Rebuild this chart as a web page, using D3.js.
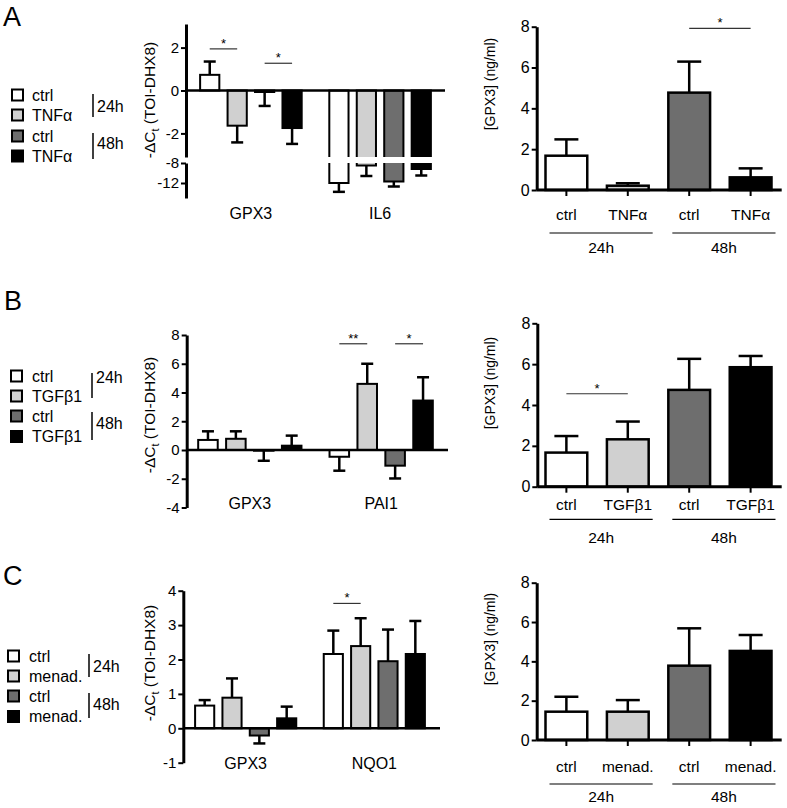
<!DOCTYPE html>
<html><head><meta charset="utf-8">
<script src="https://cdn.jsdelivr.net/npm/d3@7"></script>
<style>
body{margin:0;background:#fff}
svg text{font-family:Arial,"Liberation Sans",Helvetica,sans-serif;fill:#000}
</style>
</head><body>
<svg id="chart" width="787" height="808"></svg>
<script>
// ---------------- DATA ----------------
const seriesKeys = ["ctrl 24h", "treatment 24h", "ctrl 48h", "treatment 48h"];
const seriesColors = ["#ffffff", "#d0d0d0", "#6e6e6e", "#000000"];
const timeLabels = ["24h", "48h"];

// Panel A (TNFα)
const treatA = "TNFα";
const genesA = ["GPX3", "IL6"];
const qpcrMeanA = [[0.73, -1.64, -0.07, -1.75], [-12.0, -8.5, -11.7, -9.2]];
const qpcrErrA  = [[0.62, 0.78, 0.65, 0.74], [1.77, 2.1, 1.0, 1.3]];
const sigQpcrA  = [{gene: 0, from: 0, to: 1, y: 1.94, label: "*"}, {gene: 0, from: 2, to: 3, y: 1.27, label: "*"}];
const elisaMeanA = [1.68, 0.21, 4.77, 0.62];
const elisaErrA  = [0.8, 0.12, 1.52, 0.44];
const sigElisaA  = [{from: 2, to: 3, y: 7.92, label: "*"}];

// Panel B (TGFβ1)
const treatB = "TGFβ1";
const genesB = ["GPX3", "PAI1"];
const qpcrMeanB = [[0.7, 0.78, -0.05, 0.3], [-0.47, 4.6, -1.09, 3.44]];
const qpcrErrB  = [[0.6, 0.52, 0.7, 0.7], [0.97, 1.4, 0.89, 1.62]];
const sigQpcrB  = [{gene: 1, from: 0, to: 1, y: 7.39, label: "**"}, {gene: 1, from: 2, to: 3, y: 7.39, label: "*"}];
const elisaMeanB = [1.67, 2.32, 4.74, 5.85];
const elisaErrB  = [0.81, 0.87, 1.52, 0.55];
const sigElisaB  = [{from: 0, to: 1, y: 4.55, label: "*"}];

// Panel C (menadione)
const treatC = "menad.";
const genesC = ["GPX3", "NQO1"];
const qpcrMeanC = [[0.66, 0.89, -0.21, 0.29], [2.16, 2.39, 1.95, 2.16]];
const qpcrErrC  = [[0.16, 0.56, 0.23, 0.34], [0.68, 0.81, 0.92, 0.96]];
const sigQpcrC  = [{gene: 1, from: 0, to: 1, y: 3.63, label: "*"}];
const elisaMeanC = [1.44, 1.44, 3.78, 4.53];
const elisaErrC  = [0.76, 0.59, 1.9, 0.81];
const sigElisaC  = [];

const qpcrTicksA = [[-2, 0, 2], [-8, -12]];
const qpcrTicksB = [-4, -2, 0, 2, 4, 6, 8];
const qpcrTicksC = [-1, 0, 1, 2, 3, 4];
const elisaTicks = [0, 2, 4, 6, 8];

// ---------------- DRAWING ----------------
const FONT = 'Arial,"Liberation Sans",Helvetica,sans-serif';
const svg = d3.select("#chart");
let clipId = 0;

function yLabelQ(g, x, y) {
  const t = g.append("text").attr("transform", `translate(${x},${y}) rotate(-90)`)
    .attr("text-anchor", "middle").attr("font-size", 15.5);
  t.append("tspan").text("-ΔC");
  t.append("tspan").text("t").attr("font-size", 11).attr("dy", 4);
  t.append("tspan").text(" (TOI-DHX8)").attr("dy", -4);
}

function styleAxis(a, fs) {
  a.attr("font-family", FONT);
  a.select(".domain").attr("stroke-width", 3);
  a.selectAll(".tick line").attr("stroke-width", 2);
  a.selectAll(".tick text").attr("font-size", fs);
}

function drawQpcr(cfg) {
  const g = svg.append("g");
  const x0 = d3.scaleBand().domain(cfg.genes.map((d, i) => i)).range(cfg.groupRange).paddingInner(0.15).paddingOuter(0);
  const x1 = d3.scaleBand().domain(d3.range(4)).range([0, x0.bandwidth()]).paddingInner(0.3).paddingOuter(0.15);
  const segs = cfg.segments.map((s, k) => {
    const sc = d3.scaleLinear().domain(s.domain).range(s.range);
    const id = "clip" + (clipId++);
    const top = Math.min(...s.range), bot = Math.max(...s.range);
    const multi = cfg.segments.length > 1;
    g.append("clipPath").attr("id", id).append("rect")
      .attr("x", 0).attr("width", 787)
      .attr("y", multi && k > 0 ? top : 0)
      .attr("height", multi && k === 0 ? bot : 808);
    return {sc, id, s};
  });
  const bars = [];
  cfg.means.forEach((row, gi) => row.forEach((v, si) => bars.push({gi, si, v, e: cfg.errs[gi][si]})));
  segs.forEach(seg => {
    const sg = g.append("g").attr("clip-path", `url(#${seg.id})`);
    const y = seg.sc;
    sg.selectAll("rect.bar").data(bars).join("rect").attr("class", "bar")
      .attr("x", d => x0(d.gi) + x1(d.si)).attr("width", x1.bandwidth())
      .attr("y", d => y(Math.max(d.v, 0)))
      .attr("height", d => Math.abs(y(d.v) - y(0)))
      .attr("fill", d => seriesColors[d.si]).attr("stroke", "#000").attr("stroke-width", 2);
    const cx = d => x0(d.gi) + x1(d.si) + x1.bandwidth() / 2;
    const ey = d => y(d.v >= 0 ? d.v + d.e : d.v - d.e);
    sg.selectAll("line.err").data(bars).join("line").attr("class", "err")
      .attr("x1", cx).attr("x2", cx).attr("y1", d => y(d.v)).attr("y2", ey)
      .attr("stroke", "#000").attr("stroke-width", 2.5);
    sg.selectAll("line.cap").data(bars).join("line").attr("class", "cap")
      .attr("x1", d => cx(d) - 6).attr("x2", d => cx(d) + 6).attr("y1", ey).attr("y2", ey)
      .attr("stroke", "#000").attr("stroke-width", 2.5);
    const ax = g.append("g").attr("transform", `translate(${cfg.axisX},0)`)
      .call(d3.axisLeft(y).tickValues(seg.s.ticks).tickSize(5).tickSizeOuter(0).tickPadding(2).tickFormat(d => String(d)));
    styleAxis(ax, 15);
  });
  const yz = segs[0].sc;
  g.append("line").attr("x1", cfg.axisX).attr("x2", cfg.xEnd).attr("y1", yz(0)).attr("y2", yz(0))
    .attr("stroke", "#000").attr("stroke-width", 2.5);
  cfg.sig.forEach(s => {
    const xa = x0(s.gene) + x1(s.from) + x1.bandwidth() / 2;
    const xb = x0(s.gene) + x1(s.to) + x1.bandwidth() / 2;
    const yy = yz(s.y);
    g.append("line").attr("x1", xa).attr("x2", xb).attr("y1", yy).attr("y2", yy).attr("stroke", "#333").attr("stroke-width", 1.2);
    g.append("text").attr("x", (xa + xb) / 2).attr("y", yy - 1).attr("text-anchor", "middle").attr("font-size", 13).text(s.label);
  });
  cfg.genes.forEach((gn, gi) => {
    g.append("text").attr("x", x0(gi) + x0.bandwidth() / 2).attr("y", cfg.geneY).attr("dy", "0.35em")
      .attr("text-anchor", "middle").attr("font-size", 16).text(gn);
  });
  yLabelQ(g, cfg.ylab[0], cfg.ylab[1]);
}

function drawElisa(cfg) {
  const g = svg.append("g");
  const x = d3.scaleBand().domain(d3.range(4)).range(cfg.barRange).paddingInner(0.32).paddingOuter(0);
  const y = d3.scaleLinear().domain([0, 8]).range(cfg.yRange);
  const bars = cfg.means.map((v, i) => ({i, v, e: cfg.errs[i]}));
  const cx = d => x(d.i) + x.bandwidth() / 2;
  g.selectAll("line.err").data(bars).join("line").attr("class", "err")
    .attr("x1", cx).attr("x2", cx).attr("y1", d => y(d.v)).attr("y2", d => y(d.v + d.e))
    .attr("stroke", "#000").attr("stroke-width", 2.5);
  g.selectAll("line.cap").data(bars).join("line").attr("class", "cap")
    .attr("x1", d => cx(d) - 12).attr("x2", d => cx(d) + 12).attr("y1", d => y(d.v + d.e)).attr("y2", d => y(d.v + d.e))
    .attr("stroke", "#000").attr("stroke-width", 2.5);
  g.selectAll("rect.bar").data(bars).join("rect").attr("class", "bar")
    .attr("x", d => x(d.i)).attr("width", x.bandwidth())
    .attr("y", d => y(d.v)).attr("height", d => y(0) - y(d.v))
    .attr("fill", d => seriesColors[d.i]).attr("stroke", "#000").attr("stroke-width", 2.5);
  const ax = g.append("g").attr("transform", `translate(${cfg.axisX},0)`)
    .call(d3.axisLeft(y).tickValues(elisaTicks).tickSize(5).tickSizeOuter(0).tickPadding(2));
  styleAxis(ax, 16);
  g.append("line").attr("x1", cfg.axisX).attr("x2", cfg.xEnd).attr("y1", y(0)).attr("y2", y(0))
    .attr("stroke", "#000").attr("stroke-width", 3);
  g.selectAll("line.xt").data(bars).join("line").attr("class", "xt")
    .attr("x1", cx).attr("x2", cx).attr("y1", y(0)).attr("y2", y(0) + 6).attr("stroke", "#000").attr("stroke-width", 2);
  const labels = ["ctrl", cfg.treat, "ctrl", cfg.treat];
  g.selectAll("text.xl").data(bars).join("text").attr("class", "xl")
    .attr("x", cx).attr("y", cfg.xLabY).attr("dy", "0.35em").attr("text-anchor", "middle").attr("font-size", 15.5)
    .text(d => labels[d.i]);
  timeLabels.forEach((t, k) => {
    const xa = x(2 * k) + 4, xb = x(2 * k + 1) + x.bandwidth() + 4;
    g.append("line").attr("x1", xa).attr("x2", xb).attr("y1", cfg.grpLineY).attr("y2", cfg.grpLineY)
      .attr("stroke", "#000").attr("stroke-width", 1.2);
    g.append("text").attr("x", (xa + xb) / 2).attr("y", cfg.grpLabY).attr("dy", "0.35em")
      .attr("text-anchor", "middle").attr("font-size", 15.5).text(t);
  });
  cfg.sig.forEach(s => {
    const xa = cx({i: s.from}), xb = cx({i: s.to}), yy = y(s.y);
    g.append("line").attr("x1", xa).attr("x2", xb).attr("y1", yy).attr("y2", yy).attr("stroke", "#333").attr("stroke-width", 1.2);
    g.append("text").attr("x", (xa + xb) / 2).attr("y", yy - 1).attr("text-anchor", "middle").attr("font-size", 13).text(s.label);
  });
  g.append("text").attr("transform", `translate(${cfg.ylab[0]},${cfg.ylab[1]}) rotate(-90)`)
    .attr("text-anchor", "middle").attr("font-size", 14).text("[GPX3] (ng/ml)");
}

function drawLegend(cfg) {
  const g = svg.append("g");
  const labels = ["ctrl", cfg.treat, "ctrl", cfg.treat];
  cfg.rows.forEach((ry, i) => {
    g.append("rect").attr("x", cfg.sqX).attr("y", ry - 5.5).attr("width", 11).attr("height", 11)
      .attr("fill", seriesColors[i]).attr("stroke", "#000").attr("stroke-width", 2);
    g.append("text").attr("x", cfg.textX).attr("y", ry).attr("dy", "0.35em").attr("font-size", 16).text(labels[i]);
  });
  [cfg.br24, cfg.br48].forEach((b, k) => {
    g.append("line").attr("x1", cfg.brX).attr("x2", cfg.brX).attr("y1", b[0]).attr("y2", b[1]).attr("stroke", "#000").attr("stroke-width", 1.5);
    g.append("text").attr("x", cfg.tX).attr("y", k === 0 ? cfg.t24Y : cfg.t48Y).attr("dy", "0.35em").attr("font-size", 16).text(timeLabels[k]);
  });
}

function letter(l, x, y) {
  svg.append("text").attr("x", x).attr("y", y).attr("font-size", 27).text(l);
}

// Panel A
letter("A", 3, 26);
drawLegend({treat: treatA, sqX: 12, textX: 32, rows: [95, 115, 136, 156], brX: 93, br24: [94, 117], br48: [133, 159], tX: 97, t24Y: 106, t48Y: 143});
drawQpcr({genes: genesA, means: qpcrMeanA, errs: qpcrErrA, sig: sigQpcrA, axisX: 186, xEnd: 445, groupRange: [196, 435],
  segments: [{domain: [-3.1, 3.1], range: [157, 24], ticks: qpcrTicksA[0]}, {domain: [-15, -8], range: [198, 163], ticks: qpcrTicksA[1]}],
  geneY: 213, ylab: [155, 100]});
drawElisa({treat: treatA, means: elisaMeanA, errs: elisaErrA, sig: sigElisaA, axisX: 536.7, xEnd: 781.7, barRange: [545.5, 771.5],
  yRange: [190, 26.7], xLabY: 215, grpLineY: 233, grpLabY: 248, ylab: [495, 84]});

// Panel B
letter("B", 4, 310);
drawLegend({treat: treatB, sqX: 11, textX: 32, rows: [376, 396, 416, 436.5], brX: 92, br24: [373, 398], br48: [412, 440], tX: 96, t24Y: 377, t48Y: 423});
drawQpcr({genes: genesB, means: qpcrMeanB, errs: qpcrErrB, sig: sigQpcrB, axisX: 186.7, xEnd: 448, groupRange: [194, 437],
  segments: [{domain: [-4, 8], range: [507.5, 335], ticks: qpcrTicksB}], geneY: 503, ylab: [155, 415]});
drawElisa({treat: treatB, means: elisaMeanB, errs: elisaErrB, sig: sigElisaB, axisX: 537.3, xEnd: 781.7, barRange: [545.5, 771.5],
  yRange: [486.7, 323.3], xLabY: 505, grpLineY: 519.3, grpLabY: 538, ylab: [495, 383]});

// Panel C
letter("C", 3, 585);
drawLegend({treat: treatC, sqX: 8, textX: 29, rows: [656, 676, 696, 716.5], brX: 89, br24: [654, 677], br48: [693, 718], tX: 93, t24Y: 666, t48Y: 704});
drawQpcr({genes: genesC, means: qpcrMeanC, errs: qpcrErrC, sig: sigQpcrC, axisX: 183.3, xEnd: 440, groupRange: [191, 429],
  segments: [{domain: [-1, 4], range: [762.7, 590.7], ticks: qpcrTicksC}], geneY: 763, ylab: [155, 663]});
drawElisa({treat: treatC, means: elisaMeanC, errs: elisaErrC, sig: sigElisaC, axisX: 536.7, xEnd: 781.7, barRange: [545.5, 771.5],
  yRange: [740, 582.7], xLabY: 766.7, grpLineY: 784, grpLabY: 796.7, ylab: [495, 639]});
</script>
</body></html>
